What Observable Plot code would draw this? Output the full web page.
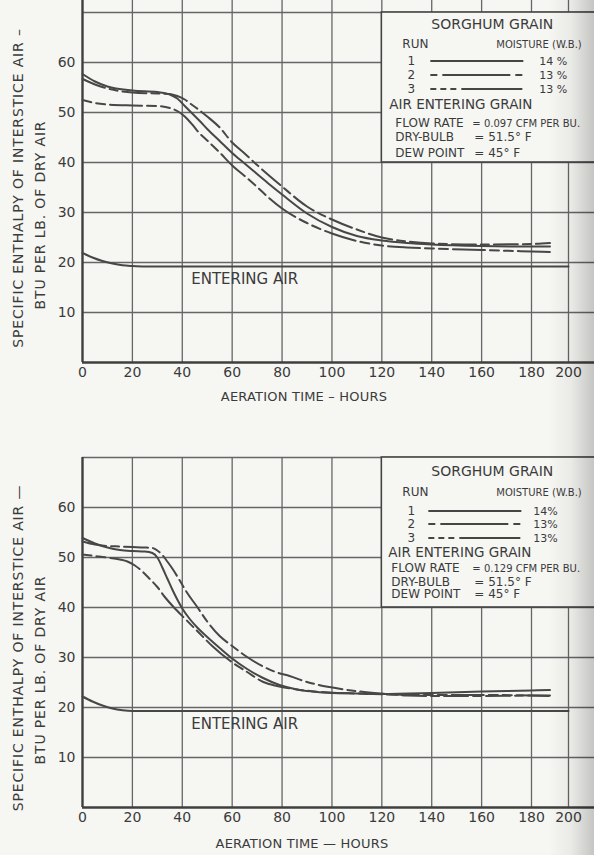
<!DOCTYPE html>
<html>
<head>
<meta charset="utf-8">
<script src="https://cdn.jsdelivr.net/npm/d3@7"></script>
<script src="https://cdn.jsdelivr.net/npm/@observablehq/plot@0.6"></script>
<style>
  body { margin: 0; background: #f6f6f3; }
  #page { position: relative; width: 594px; height: 855px; overflow: hidden;
          font-family: "DejaVu Sans", sans-serif; color: #3b3b3b; }
  .panel { position: absolute; left: 0; }
  .ylab { position: absolute; white-space: nowrap; font-size: 14px; letter-spacing: 0.85px;
          transform: translate(-50%, -50%) rotate(-90deg); }
  .xlab { position: absolute; white-space: nowrap; font-size: 13px; letter-spacing: 0.2px;
          transform: translate(-50%, -50%); }
  #shade { position: absolute; top: 0; right: 0; width: 46px; height: 855px; pointer-events: none;
           background: linear-gradient(to right, rgba(0,0,0,0), rgba(0,0,0,0.05) 50%, rgba(0,0,0,0.2)); }
</style>
</head>
<body>
<div id="page">
  <div id="panelA" class="panel" style="top:0"></div>
  <div id="panelB" class="panel" style="top:445px"></div>

  <div class="ylab" style="left:18px; top:188px">SPECIFIC ENTHALPY OF INTERSTICE AIR –</div>
  <div class="ylab" style="left:40px; top:215px">BTU PER LB. OF DRY AIR</div>
  <div class="xlab" style="left:304px; top:396px">AERATION TIME – HOURS</div>

  <div class="ylab" style="left:18px; top:648px">SPECIFIC ENTHALPY OF INTERSTICE AIR —</div>
  <div class="ylab" style="left:40px; top:670px">BTU PER LB. OF DRY AIR</div>
  <div class="xlab" style="left:302px; top:843px">AERATION TIME — HOURS</div>

  <div id="shade"></div>
</div>
<script>
// Axis ticks and grid levels
const hourTicks = [0, 20, 40, 60, 80, 100, 120, 140, 160, 180, 200];
const enthalpyTicks = [10, 20, 30, 40, 50, 60];
const gridLevels = [10, 20, 30, 40, 50, 60, 70];

// Runs shown in each panel
const runIds = ["1", "2", "3"];
const runMoistureA = ["14 %", "13 %", "13 %"];
const runMoistureB = ["14%", "13%", "13%"];

// Entering air (both panels)
const enteringHours = [0, 4, 8, 12, 16, 20, 25, 200];
const enteringA = [21.9, 21.0, 20.3, 19.8, 19.45, 19.3, 19.2, 19.2];
const enteringB = [22.2, 21.2, 20.4, 19.8, 19.45, 19.3, 19.3, 19.3];

// Panel A: flow rate 0.097 CFM per bu.
const hoursA = [0, 5, 10, 20, 30, 35, 38, 41, 44, 47, 50, 55, 60, 65, 70, 75, 80, 90, 100, 110, 120, 130, 140, 160, 180, 190];
const run1A = [57.7, 56.2, 55.2, 54.4, 54.1, 53.6, 52.8, 51.3, 49.8, 48.3, 46.7, 44.3, 41.9, 39.8, 37.7, 35.6, 33.6, 29.8, 27.1, 25.3, 24.4, 23.9, 23.6, 23.3, 23.2, 23.2];
const run2A = [56.7, 55.6, 54.8, 54.0, 53.8, 53.7, 53.3, 52.6, 51.5, 50.4, 49.2, 47.0, 44.0, 41.8, 39.5, 37.3, 35.2, 31.2, 28.6, 26.6, 25.0, 24.2, 23.8, 23.6, 23.7, 23.9];
const run3A = [52.5, 51.9, 51.6, 51.4, 51.3, 50.9, 50.3, 49.2, 47.6, 45.8, 44.4, 42.0, 39.4, 37.3, 35.1, 32.8, 30.8, 27.9, 25.8, 24.3, 23.4, 23.0, 22.8, 22.5, 22.2, 22.1];

// Panel B: flow rate 0.129 CFM per bu.
const run1HoursB = [0, 5, 10, 15, 20, 25, 28, 30, 32, 34, 36, 38, 40, 43, 46, 50, 55, 60, 66, 72, 79, 86, 92, 100, 110, 120, 140, 160, 180, 190];
const run1B = [53.9, 52.8, 52.0, 51.5, 51.3, 51.2, 50.9, 50.0, 48.0, 45.8, 43.6, 41.6, 39.8, 37.7, 36.0, 34.1, 31.9, 29.8, 27.7, 26.0, 24.5, 23.6, 23.2, 22.9, 22.8, 22.7, 22.9, 23.2, 23.4, 23.5];
const run2HoursB = [0, 5, 10, 15, 20, 25, 28, 30, 32, 34, 36, 39, 42, 46, 50, 55, 60, 66, 72, 78, 83, 90, 99, 105, 111, 117, 122, 130, 140, 160, 180, 190];
const run2B = [53.2, 52.6, 52.3, 52.2, 52.1, 52.0, 51.9, 51.4, 50.5, 49.2, 47.8, 45.4, 42.9, 40.1, 37.2, 34.3, 32.3, 30.1, 28.3, 27.0, 26.3, 25.1, 24.1, 23.6, 23.2, 22.9, 22.7, 22.4, 22.3, 22.3, 22.4, 22.4];
const run3HoursB = [0, 5, 10, 15, 18, 21, 24, 27, 30, 33, 36.5, 41, 46, 52, 59, 66, 72.5, 78, 86, 99, 110, 122, 140, 160, 180, 190];
const run3B = [50.6, 50.3, 50.0, 49.6, 49.2, 48.4, 47.2, 45.7, 44.1, 42.1, 40.1, 37.8, 35.3, 32.3, 29.4, 27.1, 25.1, 24.3, 23.6, 23.0, 22.8, 22.6, 22.5, 22.5, 22.4, 22.3];

const ink = "#3b3b3b";
const paper = "#f6f6f3";
const curveDash = [null, "24,5,8,5", "9,5,9,5,32,5"];
const legendDash = [null, "7,5,68,5,7", "6,4,6,4,6,5,61"];

const table = (hours, values) => hours.map((h, i) => ({hours: h, enthalpy: values[i]}));

// The right end of the sheet runs a little past the 200-hour line
const xEdge = 214.05;

function drawPanel(cfg) {
  const lineStyle = {x: "hours", y: "enthalpy", stroke: "#474747", strokeWidth: 2, curve: "monotone-x"};
  const marks = [
    Plot.ruleX(hourTicks.slice(1), {y1: 0, y2: cfg.yTop, stroke: "#666", strokeWidth: 1.3}),
    Plot.ruleY(gridLevels, {x1: 0, x2: xEdge, stroke: "#666", strokeWidth: 1.3}),
    Plot.ruleX([0], {y1: 0, y2: cfg.yTop, stroke: "#3f3f3f", strokeWidth: 2.4}),
    Plot.ruleY([0], {x1: 0, x2: xEdge, stroke: "#3f3f3f", strokeWidth: 2.4}),
    Plot.line(table(enteringHours, cfg.entering), lineStyle),
    Plot.text([{hours: 65, enthalpy: 16.7, label: "ENTERING AIR"}],
      {x: "hours", y: "enthalpy", text: "label", fontSize: 15, fill: ink})
  ];
  cfg.runs.forEach((r, i) => {
    marks.push(Plot.line(table(r.hours, r.values),
      {...lineStyle, strokeDasharray: curveDash[i] ?? undefined}));
  });

  const chart = Plot.plot({
    width: 594,
    height: 380,
    marginTop: cfg.marginTop,
    marginBottom: 18,
    marginLeft: 82,
    marginRight: 0,
    style: {background: "transparent", fontFamily: "DejaVu Sans", fontSize: "14px", color: ink},
    x: {type: "linear", domain: [0, 180, 200, xEdge], range: [82, 531, 568, 594],
        ticks: hourTicks, tickSize: 0, tickPadding: 5, label: null},
    y: {domain: [0, cfg.yTop], ticks: enthalpyTicks, tickSize: 0, tickPadding: 7, label: null},
    marks
  });

  drawLegend(chart, cfg.legend);
  document.getElementById(cfg.id).appendChild(chart);
}

function drawLegend(chart, L) {
  const sx = chart.scale("x"), sy = chart.scale("y");
  const ox = sx.apply(120), oy = sy.apply(70), oy2 = sy.apply(40);
  const g = d3.select(chart).append("g").attr("fill", ink);
  g.append("rect")
    .attr("x", ox).attr("y", oy).attr("width", 600 - ox).attr("height", oy2 - oy)
    .attr("fill", paper).attr("stroke", "#444").attr("stroke-width", 1.6);
  const text = (dx, dy, s, size, anchor = "start") =>
    g.append("text").attr("x", ox + dx).attr("y", oy + dy).attr("dy", "0.36em")
      .attr("font-size", size).attr("text-anchor", anchor)
      .style("white-space", "pre").text(s);

  text(111, L.title, "SORGHUM GRAIN", 14, "middle");
  text(21, L.head, "RUN", 12);
  text(115, L.head, "MOISTURE (W.B.)", 10);
  runIds.forEach((id, i) => {
    const y = L.rows[i];
    text(30, y, id, 12, "middle");
    g.append("line")
      .attr("x1", ox + L.lineX[0]).attr("x2", ox + L.lineX[1])
      .attr("y1", oy + y).attr("y2", oy + y)
      .attr("stroke", "#454545").attr("stroke-width", 2)
      .attr("stroke-dasharray", legendDash[i]);
    text(L.pctX, y, L.moisture[i], 11);
  });
  text(L.airX, L.air, "AIR ENTERING GRAIN", 13.5);
  text(L.labelX, L.flow, "FLOW RATE", 12);
  text(91, L.flow, L.flowValue, 10);
  text(L.labelX, L.dry, "DRY-BULB", 12);
  text(93, L.dry, "= 51.5° F", 12);
  text(L.labelX, L.dew, "DEW POINT", 12);
  text(93, L.dew, "= 45° F", 12);
}

drawPanel({
  id: "panelA",
  marginTop: 0,
  yTop: 72.4,
  entering: enteringA,
  runs: [
    {hours: hoursA, values: run1A},
    {hours: hoursA, values: run2A},
    {hours: hoursA, values: run3A}
  ],
  legend: {title: 12, head: 32, rows: [49, 63, 77], lineX: [49, 142], pctX: 158,
           moisture: runMoistureA, airX: 8, air: 92, labelX: 14, flow: 111, dry: 124.5, dew: 141,
           flowValue: "= 0.097 CFM PER BU."}
});

drawPanel({
  id: "panelB",
  marginTop: 12,
  yTop: 70,
  entering: enteringB,
  runs: [
    {hours: run1HoursB, values: run1B},
    {hours: run2HoursB, values: run2B},
    {hours: run3HoursB, values: run3B}
  ],
  legend: {title: 14, head: 35, rows: [54, 67, 81], lineX: [47, 140], pctX: 152,
           moisture: runMoistureB, airX: 7, air: 95, labelX: 10, flow: 111, dry: 124.5, dew: 137,
           flowValue: "= 0.129 CFM PER BU."}
});
</script>
</body>
</html>
